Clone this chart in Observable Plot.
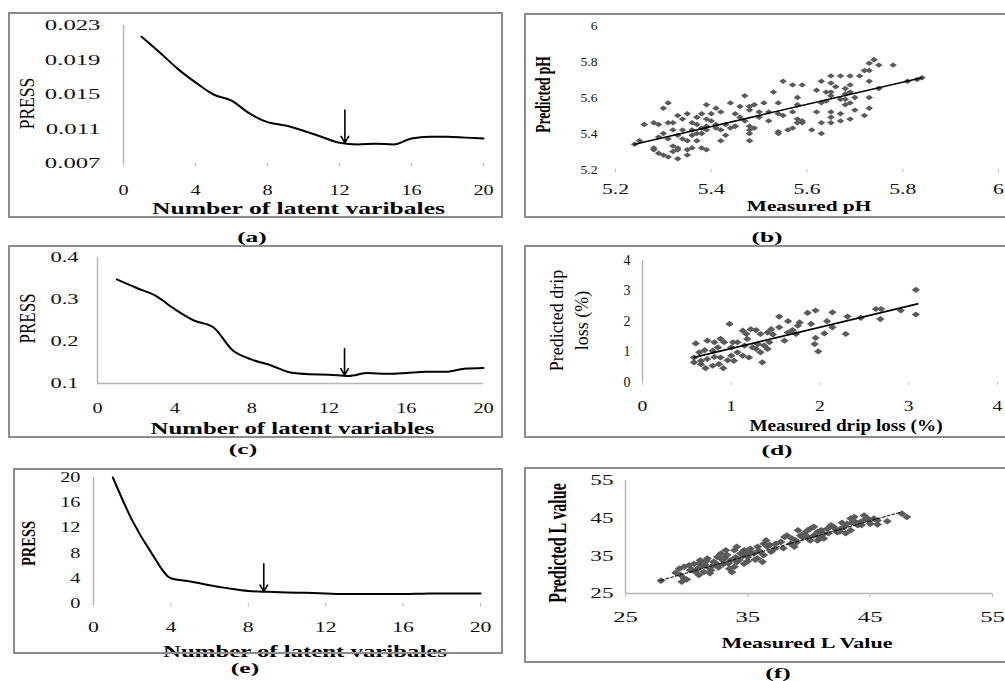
<!DOCTYPE html>
<html><head><meta charset="utf-8">
<script src="https://cdn.jsdelivr.net/npm/d3@7"></script>
<script src="https://cdn.jsdelivr.net/npm/@observablehq/plot@0.6"></script>
<style>
html,body{margin:0;padding:0;background:#fff;overflow:hidden;width:1005px;height:681px;}
#fig{position:relative;width:1005px;height:681px;}
.box{position:absolute;border:2px solid #8c8c8c;box-sizing:border-box;pointer-events:none;}
.holder{position:absolute;}
.holder svg{display:block;max-width:none;background:transparent;}
.lab{position:absolute;font:bold 15px "Liberation Serif","Times New Roman",serif;transform:translate(-50%,-50%) scaleX(1.7);white-space:nowrap;color:#000;}
</style></head><body><div id="fig"></div>
<script>
// ---------- data ----------
const latentX = [1,2,3,4,5,6,7,8,9,10,11,12,13,14,15,16,17,18,19,20];
const pressA = [0.0217,0.0199,0.0180,0.0164,0.0150,0.0143,0.0128,0.0118,0.0114,0.0108,0.0101,0.0094,0.0092,0.0093,0.0092,0.0099,0.0101,0.0101,0.0100,0.0099];
const pressC = [0.348,0.328,0.309,0.277,0.250,0.234,0.179,0.157,0.143,0.126,0.122,0.121,0.118,0.125,0.123,0.125,0.128,0.128,0.135,0.137];
const pressE = [20,13.2,8.0,4.0,3.5,2.9,2.4,2.0,1.85,1.75,1.7,1.6,1.5,1.5,1.5,1.5,1.55,1.6,1.6,1.6];
const optimumA = [12.3, 0.0132, 0.0094];
const optimumC = [12.8, 0.183, 0.120];
const optimumE = [8.8, 6.3, 1.9];

const phMeasured = [5.74,5.73,5.75,5.78,5.72,5.73,5.84,5.81,5.83,5.65,5.67,5.69,5.71,5.73,5.63,5.55,5.57,5.59,5.65,5.66,5.68,5.69,5.75,5.62,5.64,5.65,5.65,5.68,5.69,5.70,5.73,5.53,5.47,5.58,5.64,5.67,5.68,5.68,5.69,5.31,5.39,5.44,5.49,5.51,5.54,5.58,5.63,5.30,5.41,5.46,5.48,5.35,5.38,5.40,5.42,5.45,5.48,5.50,5.52,5.54,5.57,5.62,5.65,5.67,5.70,5.73,5.33,5.34,5.37,5.39,5.40,5.46,5.47,5.50,5.52,5.55,5.58,5.59,5.65,5.67,5.69,5.72,5.26,5.28,5.29,5.31,5.32,5.36,5.37,5.39,5.41,5.43,5.45,5.48,5.58,5.59,5.63,5.65,5.32,5.34,5.36,5.38,5.39,5.41,5.42,5.44,5.45,5.48,5.49,5.54,5.56,5.57,5.61,5.63,5.30,5.33,5.36,5.37,5.38,5.43,5.48,5.54,5.25,5.29,5.31,5.34,5.35,5.37,5.42,5.48,5.24,5.28,5.32,5.33,5.36,5.38,5.39,5.28,5.29,5.30,5.32,5.33,5.35,5.35,5.31,5.33];
const phPredicted = [5.81,5.79,5.78,5.78,5.75,5.75,5.71,5.69,5.70,5.72,5.72,5.72,5.72,5.69,5.69,5.69,5.67,5.67,5.68,5.66,5.65,5.67,5.65,5.64,5.63,5.61,5.63,5.62,5.63,5.60,5.60,5.63,5.61,5.60,5.58,5.59,5.59,5.56,5.57,5.57,5.56,5.57,5.56,5.57,5.57,5.56,5.57,5.54,5.54,5.55,5.55,5.51,5.51,5.51,5.52,5.51,5.53,5.52,5.52,5.51,5.52,5.52,5.52,5.51,5.53,5.54,5.50,5.48,5.49,5.48,5.47,5.49,5.47,5.49,5.47,5.50,5.48,5.47,5.49,5.47,5.48,5.50,5.45,5.46,5.45,5.46,5.46,5.46,5.45,5.44,5.45,5.45,5.44,5.44,5.46,5.46,5.46,5.46,5.42,5.42,5.42,5.43,5.42,5.43,5.42,5.43,5.44,5.42,5.43,5.41,5.42,5.43,5.42,5.40,5.40,5.39,5.39,5.40,5.40,5.39,5.40,5.40,5.36,5.38,5.37,5.37,5.36,5.36,5.36,5.36,5.34,5.32,5.33,5.32,5.32,5.32,5.31,5.31,5.29,5.28,5.30,5.31,5.31,5.28,5.27,5.26];
const phFitX = [5.24,5.84];
const phFitY = [5.34,5.71];

const dripMeasured = [3.08,3.08,2.91,2.69,2.63,2.68,2.46,2.31,2.29,2.14,1.95,1.86,2.08,2.14,2.05,1.90,1.77,1.75,1.95,1.94,1.98,1.54,1.64,1.54,1.64,1.69,1.73,1.60,1.45,1.47,1.41,1.33,1.28,1.22,1.17,1.13,1.18,0.98,1.43,1.37,1.41,1.30,1.28,1.33,1.20,1.35,1.24,1.15,1.07,1.02,1.00,0.92,0.88,0.81,0.73,0.60,0.85,0.79,0.70,0.64,0.58,0.66,0.73,0.81,0.88,0.96,1.00,1.07,1.13,0.86,0.79,0.71,0.66,0.58,0.91,1.03];
const dripPredicted = [3.04,2.23,2.36,2.41,2.41,2.08,2.12,2.16,1.59,2.30,2.36,2.28,2.01,1.81,1.61,1.92,1.97,1.86,1.46,1.26,1.02,2.16,2.01,1.81,1.64,1.72,1.59,1.37,1.75,1.57,1.64,1.59,1.72,1.75,1.59,1.70,1.43,1.92,1.32,1.21,1.10,1.26,1.10,0.99,0.82,0.66,1.15,1.21,1.32,1.32,1.15,1.32,1.43,1.32,1.37,1.28,1.15,1.04,1.06,0.99,0.82,0.71,0.77,0.84,0.82,0.73,0.88,0.99,0.88,0.60,0.55,0.47,0.60,0.66,0.47,0.71];
const dripFitX = [0.58,3.10];
const dripFitY = [0.82,2.58];

const lMeasured = [27.9,29.1,29.5,29.8,29.6,30.0,29.4,29.8,30.3,30.2,30.6,30.9,31.1,31.4,31.7,31.0,31.4,32.0,32.2,32.5,32.8,33.0,33.3,33.6,33.9,34.1,33.5,33.7,34.4,34.7,35.0,35.2,35.5,35.8,36.0,36.3,36.5,36.6,35.8,36.2,34.7,34.1,33.9,33.2,32.5,31.7,37.3,37.7,38.0,38.2,38.5,38.8,38.9,39.3,39.6,39.9,40.1,40.4,40.7,41.0,41.2,41.5,41.8,42.0,42.3,42.6,42.9,43.1,43.4,43.7,44.0,44.2,44.5,44.8,45.0,45.3,45.6,46.4,47.6,48.0,40.1,40.7,41.2,39.9,39.1,43.4,43.8,31.0,31.6,32.3,32.9,33.4,34.0,34.6,35.3,35.9,36.8,37.2,33.0,32.0,30.7,31.9,34.3,35.0,36.3,38.6,39.0,41.6,42.2,43.0,44.3,44.9,45.6,43.5,40.4,41.0,42.7,30.4,31.3,32.6,33.1,34.9,35.6,36.9,37.9,39.5,40.9,42.5,44.6];
const lPredicted = [28.4,30.5,29.9,29.0,28.1,28.7,31.6,32.1,31.2,32.5,32.9,31.6,33.8,32.9,34.3,29.9,30.7,32.1,33.4,34.7,35.6,34.3,35.2,33.8,32.1,33.4,31.6,30.7,35.6,36.5,34.7,36.9,35.6,37.4,36.0,38.2,39.1,37.4,34.3,33.4,32.9,37.4,36.5,36.5,32.5,32.1,38.2,38.7,40.0,40.4,38.2,37.4,39.1,40.4,40.9,40.0,42.2,42.7,41.3,41.8,40.9,42.2,43.1,42.7,41.3,42.2,42.7,43.5,44.9,45.3,43.1,44.0,45.7,44.9,43.5,44.9,44.4,44.2,46.2,45.3,39.1,39.1,39.6,41.8,41.8,41.8,44.0,33.0,33.6,33.2,34.0,33.0,34.6,35.0,35.8,36.4,37.9,36.9,32.8,31.2,30.8,30.4,33.9,33.6,35.2,39.6,38.6,41.0,42.0,41.0,43.2,44.3,43.3,43.8,40.4,40.2,43.8,31.4,32.4,31.9,34.4,35.9,34.0,36.1,37.0,39.9,39.8,41.5,44.7];
const lFitX = [27.9,47.5];
const lFitY = [28.5,46.6];

// tick labels
const latentTicks = [0,4,8,12,16,20];
const ticksA = [0.007,0.011,0.015,0.019,0.023];
const ticksB = [5.2,5.4,5.6,5.8,6];
const ticksC = [0.1,0.2,0.3,0.4];
const ticksD = [0,1,2,3,4];
const ticksE = [0,4,8,12,16,20];
const ticksF = [25,35,45,55];

// ---------- drawing ----------
const SERIF = '"Liberation Serif","Times New Roman",serif';
const fig = document.getElementById("fig");
function diamond(w,h){return {draw(ctx){ctx.moveTo(0,-h);ctx.lineTo(w,0);ctx.lineTo(0,h);ctx.lineTo(-w,0);ctx.closePath();}};}
const pts = (xs, ys) => xs.map((x,i)=>({x, y: ys[i]}));
const curve = (ys) => Plot.line(pts(latentX, ys), {x:"x", y:"y", curve:"monotone-x", stroke:"#000", strokeWidth:2});
const arrow = (o) => Plot.arrow([o], {x1:d=>d[0], y1:d=>d[1], x2:d=>d[0], y2:d=>d[2], stroke:"#000", strokeWidth:1.6, headLength:7});
const scatter = (xs, ys, w, h) => Plot.dot(pts(xs, ys), {x:"x", y:"y", symbol: diamond(w,h), fill:"#5a5a5a", stroke:"none"});
const fit = (xs, ys, dash, sw) => Plot.line(pts(xs, ys), {x:"x", y:"y", stroke:"#000", strokeWidth: sw, strokeDasharray: dash});

function addScale(t, s, rotated){
  const tr = t.getAttribute("transform") || "";
  t.setAttribute("transform", tr + (rotated ? ` scale(1,${s})` : ` scale(${s},1)`));
}
function stretchSel(svg, sel, s){ svg.querySelectorAll(sel).forEach(t=>addScale(t, s, false)); }
function stretchText(svg, str, s, rotated){
  const key = str.replace(/\n/g, "");
  svg.querySelectorAll("text").forEach(t=>{ if (t.textContent === key) addScale(t, s, rotated); });
}

function panel(c){
  const marks = [];
  if (c.yLine) marks.push(Plot.ruleX([c.x[0]], {stroke:"#b5b5b5", strokeWidth:1.5}));
  if (c.xLine) marks.push(Plot.ruleY([c.y[0]], {stroke:"#b5b5b5", strokeWidth:1.5}));
  marks.push(Plot.axisX({ticks:c.xTicks, tickFormat:c.xFmt, tickSize:c.xt.size, tickPadding:c.xt.pad, stroke:"#bdbdbd", color:"#111", fontSize:c.xt.font, label:null}));
  marks.push(Plot.axisY({ticks:c.yTicks, tickFormat:c.yFmt, tickSize:0, tickPadding:c.yt.pad, color:"#111", fontSize:c.yt.font, label:null}));
  marks.push(...c.marks);
  marks.push(Plot.text([c.xTitle.text], {text:d=>d, frameAnchor:"bottom", textAnchor:"middle", dx:c.xTitle.dx, dy:c.xTitle.dy, lineAnchor:"middle", fontSize:c.xTitle.font, fontWeight:"bold", fill:"#000"}));
  marks.push(Plot.text([c.yTitle.text], {text:d=>d, frameAnchor:"left", textAnchor:"middle", rotate:-90, dx:c.yTitle.dx, dy:c.yTitle.dy, lineAnchor:"middle", lineHeight:c.yTitle.lh || 1, fontSize:c.yTitle.font, fontWeight:c.yTitle.weight, fill:"#000"}));
  const svg = Plot.plot({
    width:c.box[2], height:c.box[3],
    marginLeft:c.m[0], marginRight:c.m[1], marginTop:c.m[2], marginBottom:c.m[3],
    x:{domain:c.x}, y:{domain:c.y},
    style:{fontFamily:SERIF, background:"transparent", overflow:"visible", color:"#000"},
    marks
  });
  stretchSel(svg, 'g[aria-label="x-axis tick label"] text', c.xt.scale);
  stretchSel(svg, 'g[aria-label="y-axis tick label"] text', c.yt.scale);
  stretchText(svg, c.xTitle.text, c.xTitle.scale, false);
  stretchText(svg, c.yTitle.text, c.yTitle.scale, true);
  const holder = document.createElement("div");
  holder.className = "holder";
  holder.style.left = c.box[0]+"px"; holder.style.top = c.box[1]+"px";
  holder.appendChild(svg);
  fig.appendChild(holder);
  const b = document.createElement("div");
  b.className = "box";
  b.style.left = c.box[0]+"px"; b.style.top = c.box[1]+"px";
  b.style.width = c.box[2]+"px"; b.style.height = c.box[3]+"px";
  fig.appendChild(b);
  const lab = document.createElement("div");
  lab.className = "lab"; lab.textContent = c.label[0];
  lab.style.left = c.label[1]+"px"; lab.style.top = c.label[2]+"px";
  fig.appendChild(lab);
}

const oneDec = d => String(+(+d).toFixed(1));
const intFmt = d => String(Math.round(d));

panel({box:[8,12,495,206], m:[115,20,13,55], x:[0,20], y:[0.007,0.023],
  xTicks:latentTicks, yTicks:ticksA, yFmt:d3.format(".3f"), xFmt:intFmt,
  xt:{size:4,pad:17,font:15,scale:1.35}, yt:{pad:23,font:15,scale:1.65},
  xTitle:{text:"Number of latent varibales", font:16, scale:1.6, dx:-5, dy:45},
  yTitle:{text:"PRESS", font:17.5, weight:"normal", scale:1.15, dx:-96, dy:9},
  yLine:true, marks:[curve(pressA), arrow(optimumA)], label:["(a)",252,237]});

panel({box:[524,13,486,205], m:[91,12,12,49], x:[5.2,6], y:[5.2,6],
  xTicks:ticksB, yTicks:ticksB, xFmt:oneDec, yFmt:oneDec,
  xt:{size:3,pad:12,font:14,scale:1.55}, yt:{pad:18,font:13,scale:1.05},
  xTitle:{text:"Measured pH", font:15, scale:1.42, dx:2, dy:37},
  yTitle:{text:"Predicted pH", font:13.5, weight:"bold", scale:1.6, dx:-72, dy:-3},
  marks:[scatter(phMeasured, phPredicted, 3.8, 2.7), fit(phFitX, phFitY, null, 1.6)], label:["(b)",767,237]});

panel({box:[8,245,495,193], m:[89,20,12,55], x:[0,20], y:[0.1,0.4],
  xTicks:latentTicks, yTicks:ticksC, yFmt:d3.format(".1f"), xFmt:intFmt,
  xt:{size:0,pad:19,font:15,scale:1.35}, yt:{pad:19,font:15,scale:1.5},
  xTitle:{text:"Number of latent variables", font:16, scale:1.55, dx:2, dy:45},
  yTitle:{text:"PRESS", font:17, weight:"normal", scale:1.3, dx:-70, dy:-2},
  yLine:true, xLine:true, marks:[curve(pressC), arrow(optimumC)], label:["(c)",243,449]});

panel({box:[524,245,486,193], m:[118,13,15,56], x:[0,4], y:[0,4],
  xTicks:ticksD, yTicks:ticksD, xFmt:intFmt, yFmt:intFmt,
  xt:{size:3,pad:16,font:14,scale:1.4}, yt:{pad:12,font:14,scale:1.0},
  xTitle:{text:"Measured drip loss (%)", font:16, scale:1.2, dx:26, dy:43},
  yTitle:{text:"Predicted drip\nloss (%)", font:18, weight:"normal", scale:1.0, lh:1.4, dx:-75, dy:-1},
  yLine:true, marks:[scatter(dripMeasured, dripPredicted, 4.2, 3.1), fit(dripFitX, dripFitY, null, 1.8)], label:["(d)",777,450]});

panel({box:[13,468,490,186], m:[80,23,9,51], x:[0,20], y:[0,20],
  xTicks:latentTicks, yTicks:ticksE, xFmt:intFmt, yFmt:intFmt,
  xt:{size:4,pad:14,font:15,scale:1.45}, yt:{pad:13,font:14,scale:1.45},
  xTitle:{text:"Number of latent varibales", font:16, scale:1.55, dx:18, dy:48},
  yTitle:{text:"PRESS", font:14.5, weight:"bold", scale:1.35, dx:-65, dy:3},
  yLine:true, marks:[curve(pressE), arrow(optimumE)], label:["(e)",245,668]});

panel({box:[524,467,486,196], m:[101,18,13,70], x:[25,55], y:[25,55],
  xTicks:ticksF, yTicks:ticksF, xFmt:intFmt, yFmt:intFmt,
  xt:{size:4,pad:14,font:15,scale:1.65}, yt:{pad:12,font:15,scale:1.55},
  xTitle:{text:"Measured L Value", font:15, scale:1.47, dx:-2, dy:50},
  yTitle:{text:"Predicted L value", font:16, weight:"bold", scale:1.6, dx:-68, dy:6},
  yLine:true, xLine:true, marks:[scatter(lMeasured, lPredicted, 4.5, 3.3), fit(lFitX, lFitY, "3,2", 1)], label:["(f)",778,673]});
</script></body></html>
